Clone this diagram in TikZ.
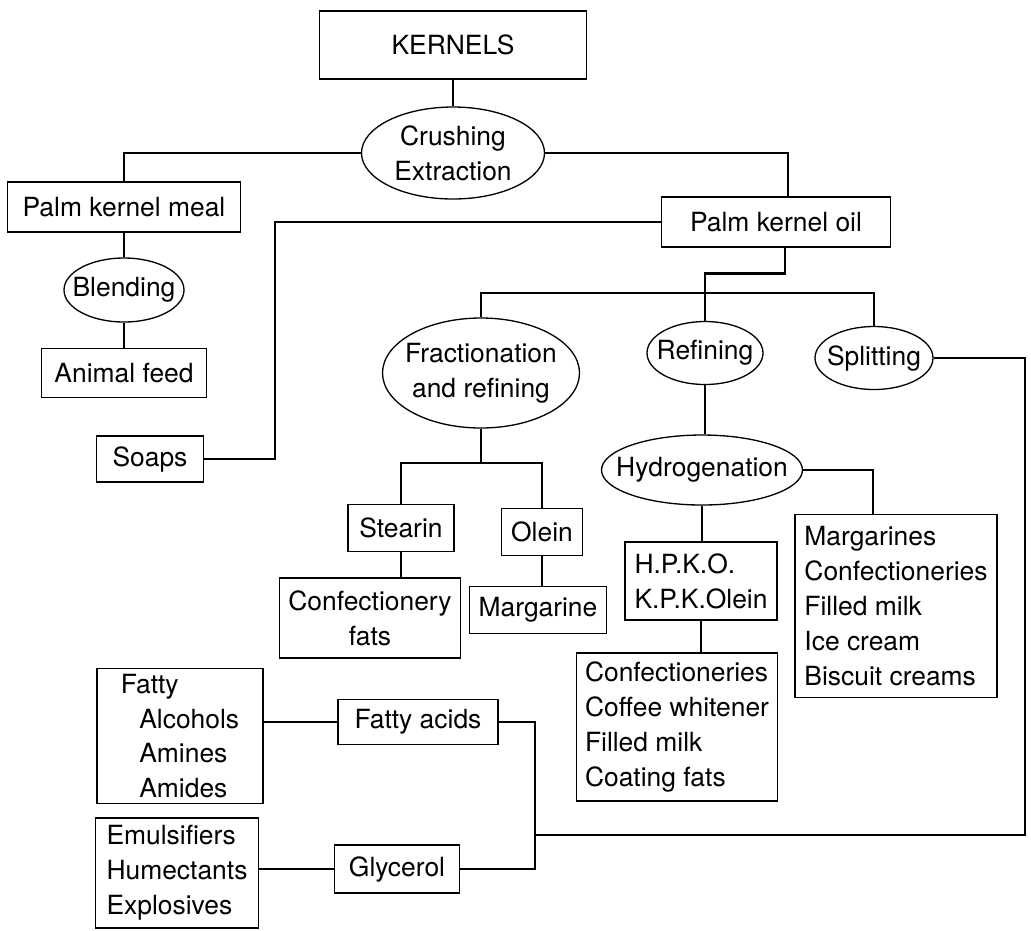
\documentclass[tikz,border=0pt]{standalone}
\usepackage{fontspec}
\setmainfont{TeX Gyre Heros}
\usepackage{tikz}
\usetikzlibrary{shapes.geometric, calc}
\newcommand{\pxu}{0.0133cm}

\begin{document}
\begin{tikzpicture}[
  x=\pxu, y=-\pxu,
  font=\fontsize{10}{13.2}\selectfont,
  box/.style  = {draw, line width=0.5pt, inner sep=2pt},
  oval/.style = {draw, ellipse, line width=0.5pt, inner xsep=-6pt, inner ysep=-2pt},
  sz/.style 2 args = {minimum width=#1*\pxu, minimum height=#2*\pxu},
  link/.style = {line width=0.9pt},
]
\useasboundingbox (0,0) rectangle (1031,930);

%% ── Row 0: kernels and crushing ────────────────────────────────────────────
\node[box, sz={267}{68}] (kernels) at (453,45) {KERNELS};
\node[oval, sz={183}{92}, align=center] (crush) at (453,153)
  {Crushing\\Extraction};

\node[box, sz={233}{50}] (pkmeal) at (124,207) {Palm kernel meal};
\node[box, sz={229}{50}] (pkoil) at (776,222) {Palm kernel oil};

%% ── Left branch: meal ──────────────────────────────────────────────────────
\node[oval, sz={120}{64}] (blend) at (124,290) {Blending};
\node[box, sz={165}{49}] (feed) at (124,373) {Animal feed};
\node[box, sz={107}{46}] (soaps) at (150,459) {Soaps};
\coordinate (soapx) at (275,212);

%% ── Row 2: oil processing ──────────────────────────────────────────────────
\coordinate (bar) at (706,293);
\node[oval, sz={197}{110}, align=center] (fract) at (481,373)
  {Fractionation\\and refining};
\node[oval, sz={116}{63}] (refin) at (705,353) {Refining};
\node[oval, sz={118}{63}] (split) at (874,358) {Splitting};

%% ── Fractions ──────────────────────────────────────────────────────────────
\coordinate (fbar) at (481,463);
\node[box, sz={106}{47}] (stearin) at (401,528) {Stearin};
\node[box, sz={81}{47}] (olein) at (542,532) {Olein};
\node[box, sz={181}{80}, align=center] (conffats) at (370,618)
  {Confectionery\\fats};
\node[box, sz={137}{47}] (marg) at (538,610) {Margarine};

%% ── Hydrogenation and products ─────────────────────────────────────────────
\node[oval, sz={201}{70}] (hydro) at (702,470) {Hydrogenation};
\node[box, sz={152}{78}, align=left] (hpko) at (701,581)
  {H.P.K.O.\\K.P.K.Olein};
\node[box, sz={202}{183}, align=left] (uses1) at (896,606)
  {Margarines\\Confectioneries\\Filled milk\\Ice cream\\Biscuit creams};
\node[box, sz={201}{148}, align=left] (uses2) at (677,727)
  {Confectioneries\\Coffee whitener\\Filled milk\\Coating fats};

%% ── Splitting products ─────────────────────────────────────────────────────
\node[box, sz={166}{133}, align=left] (fattyprod) at (180,736)
  {Fatty\\\hspace*{7pt}Alcohols\\\hspace*{7pt}Amines\\\hspace*{7pt}Amides};
\node[box, sz={160}{45}] (facids) at (418,722) {Fatty acids};
\node[box, sz={163}{110}, align=left] (emuls) at (177,873)
  {Emulsifiers\\Humectants\\Explosives};
\node[box, sz={125}{48}] (glyc) at (397,869) {Glycerol};
\coordinate (sbr) at (1025,835);
\coordinate (sbl) at (535,835);

%% ── Connectors ─────────────────────────────────────────────────────────────
\draw[link] (kernels.south) -- (crush.north);
\draw[link] (crush.west) -| (pkmeal.north);
\draw[link] (crush.east) -| ($(pkoil.north)+(12,0)$);
\draw[link] (pkmeal.south) -- (blend.north);
\draw[link] (blend.south) -- (feed.north);
\draw[link] (pkoil.west) -| (soapx |- soaps.east) -- (soaps.east);

\draw[link] ($(pkoil.south)+(9,0)$) -- ++(0,26) -| (refin.north);
\draw[link] (fract.north) -- (fract.north |- bar) -| (split.north);

\draw[link] (fract.south) -- (fbar);
\draw[link] (stearin.north) |- (fbar) -| (olein.north);
\draw[link] (stearin.south) -- (stearin.south |- conffats.north);
\draw[link] (olein.south) -- (olein.south |- marg.north);

\draw[link] (refin.south) -- (refin.south |- hydro.north);
\draw[link] (hydro.south) -- (hydro.south |- hpko.north);
\draw[link] (hydro.east) -| ($(uses1.north)+(-23,0)$);
\draw[link] (hpko.south) -- (hpko.south |- uses2.north);

\draw[link] (split.east) -| (sbr) -- (sbl);
\draw[link] (facids.east) -| (sbl) |- (glyc.east);
\draw[link] (fattyprod.east |- facids.west) -- (facids.west);
\draw[link] (emuls.east |- glyc.west) -- (glyc.west);

\end{tikzpicture}
\end{document}
